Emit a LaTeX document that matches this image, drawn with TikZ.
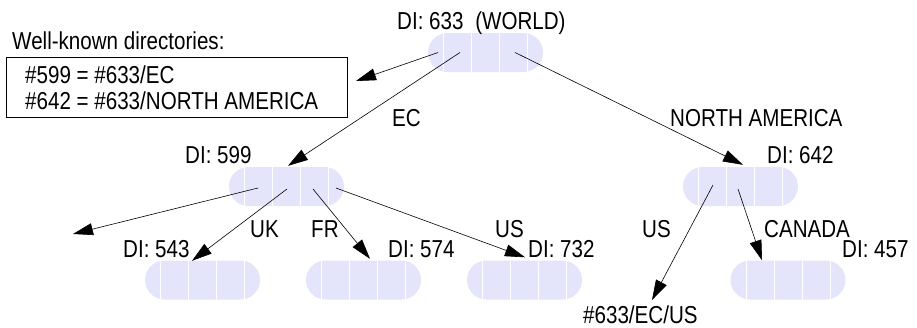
\documentclass[tikz,border=0pt]{standalone}
\usepackage{fontspec}
\setmainfont{Liberation Sans}[FakeStretch=0.84]
\usetikzlibrary{arrows.meta}
\definecolor{pillfill}{RGB}{228,228,250}
\tikzset{
  pill/.style={rectangle, rounded corners=19.5pt, fill=pillfill,
    minimum width=115pt, minimum height=39pt, inner sep=0pt,
    path picture={\foreach \dx in {-42,-14,14,42}{\draw[white, line width=0.9pt]
      ([xshift=\dx pt]path picture bounding box.north) --
      ([xshift=\dx pt]path picture bounding box.south);}}},
  lbl/.style={anchor=base west, inner sep=0pt, font=\fontsize{24.5}{28}\selectfont},
  link/.style={draw=black, line width=0.6pt, -{Triangle[length=20pt,width=12pt]}},
  infobox/.style={draw=black, line width=0.8pt, minimum width=341pt, minimum height=60pt, inner sep=0pt},
}
\begin{document}
\begin{tikzpicture}[x=1pt,y=-1pt]
\useasboundingbox (0,0) rectangle (917,327);
% pills
\node[pill] (p633) at (485.5,52.5) {};
\node[pill] (p599) at (286.5,186.5) {};
\node[pill] (p642) at (740.5,186.5) {};
\node[pill] (p543) at (202.5,280) {};
\node[pill] (p574) at (363.5,280) {};
\node[pill] (p732) at (524.5,280) {};
\node[pill] (p457) at (788,280) {};
% box
\node[infobox] (wkbox) at (176.5,87) {};
% labels
\node[lbl] (t633) at (397,29) {DI: 633\hspace{6pt} (WORLD)};
\node[lbl] (twk) at (12,49) {Well-known directories:};
\node[lbl] (tl1) at (25,83) {\#599 = \#633/EC};
\node[lbl] (tl2) at (25,109) {\#642 = \#633/NORTH AMERICA};
\node[lbl] (tec) at (392,126) {EC};
\node[lbl] (tna) at (670,126) {NORTH AMERICA};
\node[lbl] (t599) at (185,163) {DI: 599};
\node[lbl] (t642) at (767,163) {DI: 642};
\node[lbl] (tuk) at (250,237) {UK};
\node[lbl] (tfr) at (311,237) {FR};
\node[lbl] (tus1) at (495,237) {US};
\node[lbl] (t574) at (388,257) {DI: 574};
\node[lbl] (t732) at (528,257) {DI: 732};
\node[lbl] (t543) at (123,257) {DI: 543};
\node[lbl] (tus2) at (642,237) {US};
\node[lbl] (tca) at (764,237) {CANADA};
\node[lbl] (t457) at (842,257) {DI: 457};
\node[lbl] (tecus) at (583,323) {\#633/EC/US};
% free ends
\coordinate (boxtip) at (356,81);
\coordinate (lefttip) at (73,234);
\coordinate (ustip) at (652,300);
% connectors
\draw[link] ([shift={(-47.5,0)}]p633.center) -- (boxtip);
\draw[link] ([shift={(-25.5,0)}]p633.center) -- ([shift={(1.5,-1)}]p599.north);
\draw[link] ([shift={(29.5,0)}]p633.center) -- ([shift={(2.5,-2)}]p642.north);
\draw[link] ([shift={(-28.5,1.5)}]p599.center) -- (lefttip);
\draw[link] ([shift={(0.5,2.5)}]p599.center) -- ([shift={(-10.5,0.5)}]p543.north);
\draw[link] ([shift={(26.5,2.5)}]p599.center) -- ([shift={(6.5,-1.5)}]p574.north);
\draw[link] ([shift={(49.5,1.5)}]p599.center) -- ([shift={(0.5,-3)}]p732.north);
\draw[link] ([shift={(-27.5,-1.5)}]p642.center) -- (ustip);
\draw[link] ([shift={(-2.5,2.5)}]p642.center) -- ([shift={(-26,0)}]p457.north);
\end{tikzpicture}
\end{document}
